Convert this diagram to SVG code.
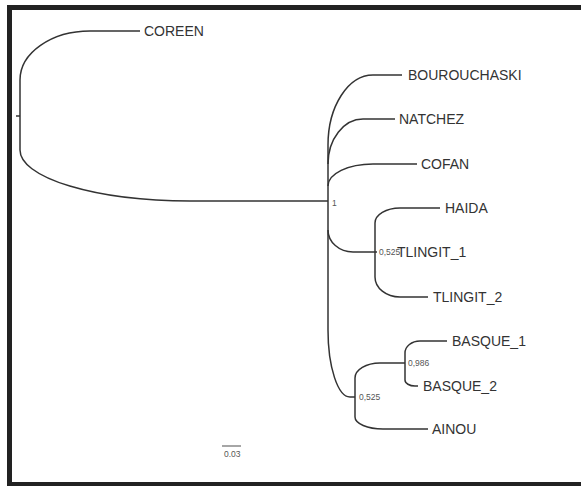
<svg xmlns="http://www.w3.org/2000/svg" width="581" height="486" viewBox="0 0 581 486">
<style>
.br{fill:none;stroke:#333;stroke-width:1.5}
.lbl{font-family:"Liberation Sans",Arial,sans-serif;font-size:14px;fill:#333}
.sup{font-family:"Liberation Sans",Arial,sans-serif;font-size:8.5px;fill:#555}
</style>
<rect x="0" y="0" width="581" height="486" fill="#fff"/>
<rect x="9.5" y="7.5" width="620" height="477" fill="none" stroke="#222" stroke-width="5"/>
<g id="connectors">
<path class="br" d="M16 116 L20 116"/>
<path class="br" d="M140 31 L90 31 A70 49 0 0 0 20 80 L20 150 A170 51 0 0 0 190 201 L328 201"/>
<path class="br" d="M328 145 L328 330"/>
<path class="br" d="M328 145 A45 70 0 0 1 373 75 L402 75"/>
<path class="br" d="M328 164 A35 45 0 0 1 363 119 L395 119"/>
<path class="br" d="M328 186 A45 22 0 0 1 373 164 L417 164"/>
<path class="br" d="M328 230 A25 22 0 0 0 353 252 L377 252"/>
<path class="br" d="M328 330 A22 67 0 0 0 350 397 L355 397"/>
<path class="br" d="M375 223 L375 277"/>
<path class="br" d="M375 223 A25 15 0 0 1 400 208 L440 208"/>
<path class="br" d="M375 277 A25 20 0 0 0 400 297 L428 297"/>
<path class="br" d="M355 378 L355 417"/>
<path class="br" d="M355 378 A25 15 0 0 1 380 363 L405 363"/>
<path class="br" d="M355 417 A28 12 0 0 0 383 429 L428 429"/>
<path class="br" d="M405 353 L405 380"/>
<path class="br" d="M405 353 A15 12 0 0 1 420 341 L447 341"/>
<path class="br" d="M405 380 A10 6 0 0 0 415 386 L418 386"/>
</g>
<g id="n-coreen"><text class="lbl" x="144" y="36">COREEN</text></g>
<g id="n-bourouchaski"><text class="lbl" x="408" y="80">BOUROUCHASKI</text></g>
<g id="n-natchez"><text class="lbl" x="399" y="124">NATCHEZ</text></g>
<g id="n-cofan"><text class="lbl" x="421" y="169">COFAN</text></g>
<g id="n-haida"><text class="lbl" x="445" y="213">HAIDA</text></g>
<g id="n-tlingit1"><text class="sup" x="379" y="255">0,525</text><text class="lbl" x="397" y="257">TLINGIT_1</text></g>
<g id="n-tlingit2"><text class="lbl" x="433" y="302">TLINGIT_2</text></g>
<g id="n-basque1"><text class="lbl" x="452" y="346">BASQUE_1</text></g>
<g id="n-basque2"><text class="lbl" x="423" y="391">BASQUE_2</text></g>
<g id="n-ainou"><text class="lbl" x="432" y="434">AINOU</text></g>
<g id="n-main"><text class="sup" x="332" y="206">1</text></g>
<g id="n-basque"><text class="sup" x="408" y="366">0,986</text></g>
<g id="n-basque-ainou"><text class="sup" x="359" y="400">0,525</text></g>
<g id="scale"><path d="M222 446 L241 446" stroke="#888" stroke-width="1.5"/><text class="sup" x="224" y="457" font-size="7.5">0.03</text></g>
</svg>
